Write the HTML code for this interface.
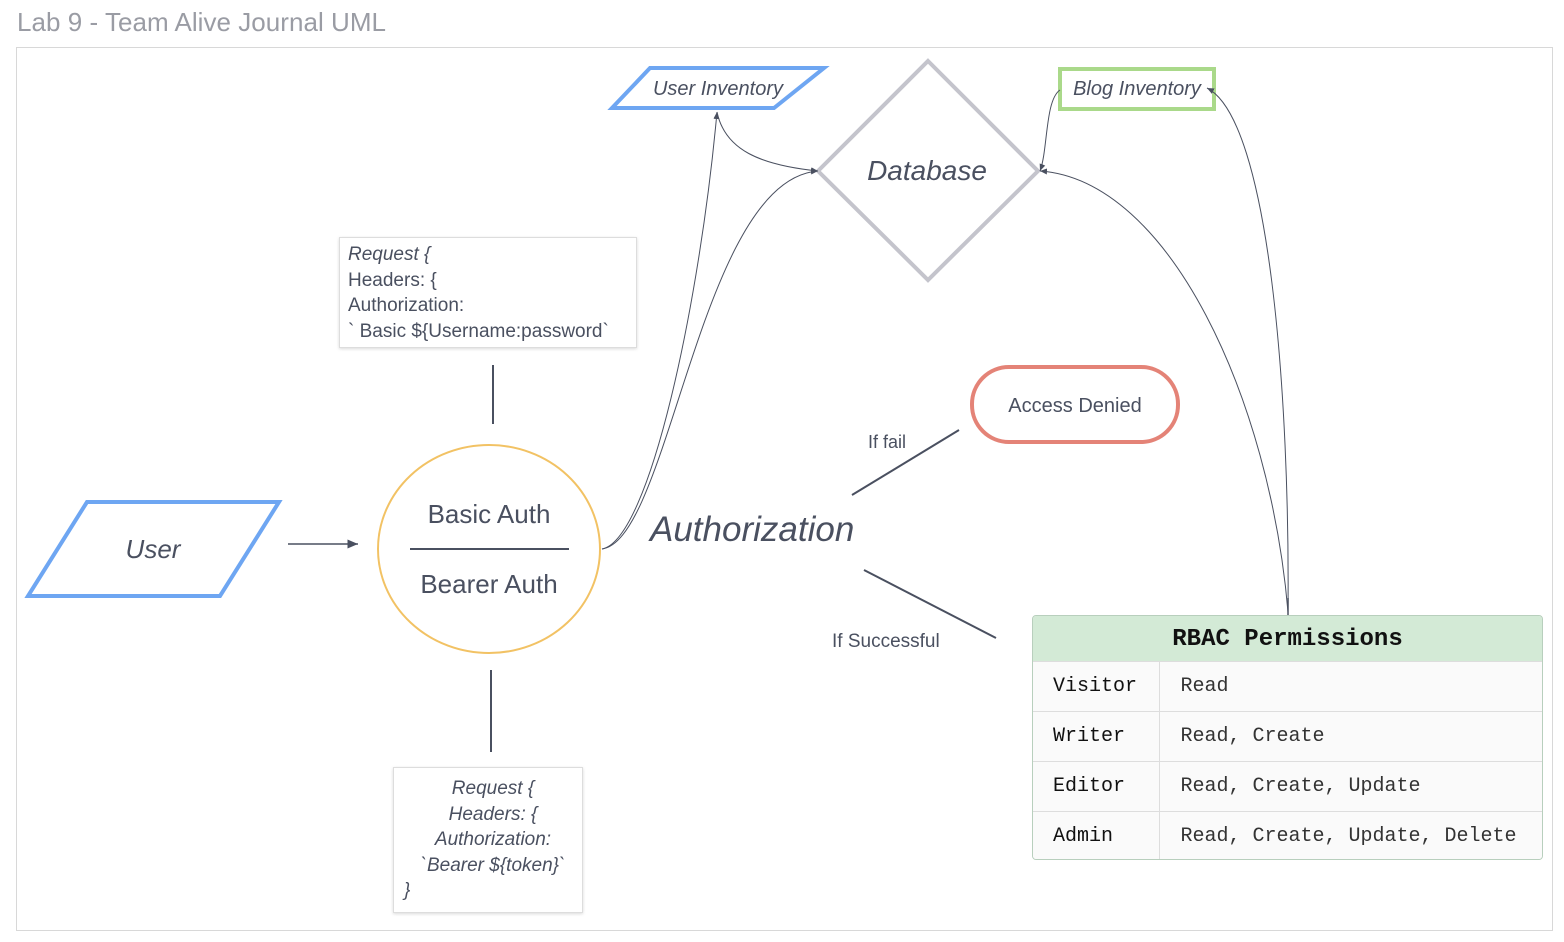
<!DOCTYPE html>
<html><head><meta charset="utf-8"><style>
html,body{margin:0;padding:0;background:#fff;width:1564px;height:942px;overflow:hidden;font-family:"Liberation Sans",sans-serif}
svg{position:absolute;left:0;top:0}
.note{position:absolute;background:#fff;border:1px solid #ddd;box-shadow:0 1px 3px rgba(0,0,0,.15);color:#4a5060;font-size:19px;line-height:25.5px;box-sizing:border-box}
table{position:absolute;left:1032px;top:615px;width:512px;border-collapse:collapse;font-family:"Liberation Mono",monospace;font-size:20px;color:#111}
td{border-top:1px solid #ddd;height:49px;padding:0;background:#fafafa}
</style></head><body>
<svg width="1564" height="942" viewBox="0 0 1564 942">
<defs><marker id="a" markerWidth="8" markerHeight="8" refX="7" refY="4" orient="auto"><path d="M0,1 L7,4 L0,7 z" fill="#4a5060"/></marker></defs>
<text x="17" y="31" font-size="26" fill="#9a9ca4" font-family="Liberation Sans" textLength="369">Lab 9 - Team Alive Journal UML</text>
<rect x="16.5" y="47.5" width="1536" height="883" fill="#fff" stroke="#d8d8d8"/>
<polygon points="87,502 279,502 220,596 28,596" fill="#fff" stroke="#6ea6f2" stroke-width="4"/>
<text x="153" y="558" font-size="26" font-style="italic" fill="#4a5060" text-anchor="middle">User</text>
<line x1="288" y1="544" x2="358" y2="544" stroke="#4a5060" stroke-width="1.5" marker-end="url(#a)"/>
<ellipse cx="489" cy="549" rx="111" ry="104" fill="#fff" stroke="#f2c264" stroke-width="2"/>
<text x="489" y="523" font-size="26" fill="#4a5060" text-anchor="middle">Basic Auth</text>
<line x1="410" y1="549" x2="569" y2="549" stroke="#4a5060" stroke-width="2"/>
<text x="489" y="593" font-size="26" fill="#4a5060" text-anchor="middle">Bearer Auth</text>
<line x1="493" y1="365" x2="493" y2="424" stroke="#4a5060" stroke-width="2"/>
<line x1="491" y1="670" x2="491" y2="752" stroke="#4a5060" stroke-width="2"/>
<polygon points="650,68 824,68 774,108 612,108" fill="#fff" stroke="#6ea6f2" stroke-width="4"/>
<text x="718" y="95" font-size="20" font-style="italic" fill="#4a5060" text-anchor="middle">User Inventory</text>
<polygon points="928,61 1038,171 928,280 818,171" fill="#fff" stroke="#c4c4cc" stroke-width="4"/>
<text x="927" y="180" font-size="28" font-style="italic" fill="#4a5060" text-anchor="middle">Database</text>
<rect x="1060" y="69" width="154" height="40" fill="#fff" stroke="#aad98a" stroke-width="4"/>
<text x="1137" y="95" font-size="20" font-style="italic" fill="#4a5060" text-anchor="middle">Blog Inventory</text>
<g fill="none" stroke="#4a5060" stroke-width="1">
<path d="M602,549 C650,540 700,300 717,112" marker-end="url(#a)"/>
<path d="M717,112 C725,150 760,165 818,171" marker-end="url(#a)"/>
<path d="M602,549 C670,540 700,180 818,171" marker-end="url(#a)"/>
<path d="M1060,90 C1045,100 1048,150 1040,171" marker-end="url(#a)"/>
<path d="M1288,612 C1270,400 1170,180 1040,171" marker-end="url(#a)"/>
<path d="M1288,612 C1290,400 1270,120 1207,88" marker-end="url(#a)"/>
</g>
<line x1="1288" y1="598" x2="1288" y2="615" stroke="#4a5060" stroke-width="1.5"/>
<text x="650" y="541" font-size="35" font-style="italic" fill="#4a5060">Authorization</text>
<line x1="852" y1="495" x2="959" y2="430" stroke="#4a5060" stroke-width="2"/>
<line x1="864" y1="570" x2="996" y2="638" stroke="#4a5060" stroke-width="2"/>
<text x="868" y="448" font-size="18" fill="#4a5060">If fail</text>
<text x="832" y="647" font-size="19" fill="#4a5060">If Successful</text>
<rect x="972" y="367" width="206" height="75" rx="37" fill="#fff" stroke="#e48377" stroke-width="4"/>
<text x="1075" y="412" font-size="20" fill="#4a5060" text-anchor="middle">Access Denied</text>
</svg>
<div class="note" style="left:339px;top:237px;width:298px;height:111px;padding:4px 0 0 8px">
<i>Request {</i><br>Headers: {<br>Authorization:<br>` Basic ${Username:password`</div>
<div class="note" style="left:393px;top:767px;width:190px;height:146px;padding:8px 0 0 10px;font-style:italic;text-align:center">
Request {<br>Headers: {<br>Authorization:<br>`Bearer ${token}`<div style="text-align:left">}</div></div>
<div style="position:absolute;left:1032px;top:615px;width:511px;height:245px;border:1px solid #b8cfbd;border-radius:4px;overflow:hidden;box-sizing:border-box;background:#fafafa">
<div style="height:45px;background:#d3ead6;text-align:center;font-family:'Liberation Mono',monospace;font-weight:bold;font-size:24px;line-height:48px;color:#111">RBAC Permissions</div>
<table style="position:static;width:100%">
<tr><td style="width:126px;border-right:1px solid #ddd;padding-left:20px;box-sizing:border-box">Visitor</td><td style="padding-left:21px;color:#333">Read</td></tr>
<tr><td style="border-right:1px solid #ddd;padding-left:20px">Writer</td><td style="padding-left:21px;color:#333">Read, Create</td></tr>
<tr><td style="border-right:1px solid #ddd;padding-left:20px">Editor</td><td style="padding-left:21px;color:#333">Read, Create, Update</td></tr>
<tr><td style="border-right:1px solid #ddd;padding-left:20px">Admin</td><td style="padding-left:21px;color:#333">Read, Create, Update, Delete</td></tr>
</table></div>
</body></html>
